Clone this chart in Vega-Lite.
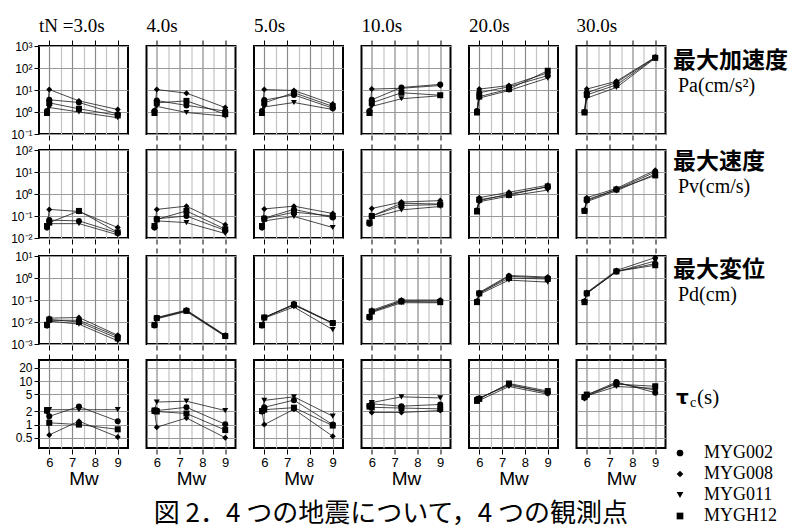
{
  "$schema": "https://vega.github.io/schema/vega-lite/v6.json",
  "background": "white",
  "padding": {"left": 10, "top": 16, "right": 0, "bottom": 0},
  "datasets": {
    "Pa": [
      {"t":"3.0","s":"MYG002","mw":5.9,"y":1.1},{"t":"3.0","s":"MYG002","mw":6.0,"y":3.6},{"t":"3.0","s":"MYG002","mw":7.3,"y":2.7},{"t":"3.0","s":"MYG002","mw":9.0,"y":0.8},
      {"t":"3.0","s":"MYG008","mw":5.9,"y":1.0},{"t":"3.0","s":"MYG008","mw":6.0,"y":10.5},{"t":"3.0","s":"MYG008","mw":7.3,"y":3.2},{"t":"3.0","s":"MYG008","mw":9.0,"y":1.3},
      {"t":"3.0","s":"MYG011","mw":5.9,"y":0.9},{"t":"3.0","s":"MYG011","mw":6.0,"y":1.6},{"t":"3.0","s":"MYG011","mw":7.3,"y":1.0},{"t":"3.0","s":"MYG011","mw":9.0,"y":0.55},
      {"t":"3.0","s":"MYGH12","mw":5.9,"y":0.9},{"t":"3.0","s":"MYGH12","mw":6.0,"y":2.6},{"t":"3.0","s":"MYGH12","mw":7.3,"y":1.4},{"t":"3.0","s":"MYGH12","mw":9.0,"y":0.7},
      {"t":"4.0","s":"MYG002","mw":5.9,"y":1.1},{"t":"4.0","s":"MYG002","mw":6.0,"y":3.3},{"t":"4.0","s":"MYG002","mw":7.3,"y":2.0},{"t":"4.0","s":"MYG002","mw":9.0,"y":1.1},
      {"t":"4.0","s":"MYG008","mw":5.9,"y":1.0},{"t":"4.0","s":"MYG008","mw":6.0,"y":10.5},{"t":"4.0","s":"MYG008","mw":7.3,"y":7.2},{"t":"4.0","s":"MYG008","mw":9.0,"y":1.6},
      {"t":"4.0","s":"MYG011","mw":5.9,"y":0.95},{"t":"4.0","s":"MYG011","mw":6.0,"y":1.8},{"t":"4.0","s":"MYG011","mw":7.3,"y":0.95},{"t":"4.0","s":"MYG011","mw":9.0,"y":0.65},
      {"t":"4.0","s":"MYGH12","mw":5.9,"y":0.9},{"t":"4.0","s":"MYGH12","mw":6.0,"y":2.6},{"t":"4.0","s":"MYGH12","mw":7.3,"y":3.2},{"t":"4.0","s":"MYGH12","mw":9.0,"y":0.8},
      {"t":"5.0","s":"MYG002","mw":5.9,"y":1.1},{"t":"5.0","s":"MYG002","mw":6.0,"y":3.5},{"t":"5.0","s":"MYG002","mw":7.3,"y":6.0},{"t":"5.0","s":"MYG002","mw":9.0,"y":1.5},
      {"t":"5.0","s":"MYG008","mw":5.9,"y":1.0},{"t":"5.0","s":"MYG008","mw":6.0,"y":10.5},{"t":"5.0","s":"MYG008","mw":7.3,"y":9.5},{"t":"5.0","s":"MYG008","mw":9.0,"y":2.3},
      {"t":"5.0","s":"MYG011","mw":5.9,"y":0.9},{"t":"5.0","s":"MYG011","mw":6.0,"y":1.7},{"t":"5.0","s":"MYG011","mw":7.3,"y":2.7},{"t":"5.0","s":"MYG011","mw":9.0,"y":1.3},
      {"t":"5.0","s":"MYGH12","mw":5.9,"y":0.9},{"t":"5.0","s":"MYGH12","mw":6.0,"y":2.6},{"t":"5.0","s":"MYGH12","mw":7.3,"y":7.5},{"t":"5.0","s":"MYGH12","mw":9.0,"y":1.8},
      {"t":"10.0","s":"MYG002","mw":5.9,"y":1.1},{"t":"10.0","s":"MYG002","mw":6.0,"y":3.6},{"t":"10.0","s":"MYG002","mw":7.3,"y":13},{"t":"10.0","s":"MYG002","mw":9.0,"y":18},
      {"t":"10.0","s":"MYG008","mw":5.9,"y":1.0},{"t":"10.0","s":"MYG008","mw":6.0,"y":11},{"t":"10.0","s":"MYG008","mw":7.3,"y":12},{"t":"10.0","s":"MYG008","mw":9.0,"y":16},
      {"t":"10.0","s":"MYG011","mw":5.9,"y":0.9},{"t":"10.0","s":"MYG011","mw":6.0,"y":1.8},{"t":"10.0","s":"MYG011","mw":7.3,"y":4.0},{"t":"10.0","s":"MYG011","mw":9.0,"y":5.5},
      {"t":"10.0","s":"MYGH12","mw":5.9,"y":0.9},{"t":"10.0","s":"MYGH12","mw":6.0,"y":2.6},{"t":"10.0","s":"MYGH12","mw":7.3,"y":7.5},{"t":"10.0","s":"MYGH12","mw":9.0,"y":5.8},
      {"t":"20.0","s":"MYG002","mw":5.9,"y":1.1},{"t":"20.0","s":"MYG002","mw":6.0,"y":7.5},{"t":"20.0","s":"MYG002","mw":7.3,"y":14},{"t":"20.0","s":"MYG002","mw":9.0,"y":45},
      {"t":"20.0","s":"MYG008","mw":5.9,"y":1.0},{"t":"20.0","s":"MYG008","mw":6.0,"y":11},{"t":"20.0","s":"MYG008","mw":7.3,"y":16},{"t":"20.0","s":"MYG008","mw":9.0,"y":60},
      {"t":"20.0","s":"MYG011","mw":5.9,"y":0.9},{"t":"20.0","s":"MYG011","mw":6.0,"y":4.3},{"t":"20.0","s":"MYG011","mw":7.3,"y":9.5},{"t":"20.0","s":"MYG011","mw":9.0,"y":35},
      {"t":"20.0","s":"MYGH12","mw":5.9,"y":0.95},{"t":"20.0","s":"MYGH12","mw":6.0,"y":5},{"t":"20.0","s":"MYGH12","mw":7.3,"y":11},{"t":"20.0","s":"MYGH12","mw":9.0,"y":75},
      {"t":"30.0","s":"MYG002","mw":5.9,"y":1.0},{"t":"30.0","s":"MYG002","mw":6.0,"y":7.5},{"t":"30.0","s":"MYG002","mw":7.3,"y":22},{"t":"30.0","s":"MYG002","mw":9.0,"y":300},
      {"t":"30.0","s":"MYG008","mw":5.9,"y":1.0},{"t":"30.0","s":"MYG008","mw":6.0,"y":11},{"t":"30.0","s":"MYG008","mw":7.3,"y":25},{"t":"30.0","s":"MYG008","mw":9.0,"y":310},
      {"t":"30.0","s":"MYG011","mw":5.9,"y":0.9},{"t":"30.0","s":"MYG011","mw":6.0,"y":4.3},{"t":"30.0","s":"MYG011","mw":7.3,"y":13},{"t":"30.0","s":"MYG011","mw":9.0,"y":280},
      {"t":"30.0","s":"MYGH12","mw":5.9,"y":0.95},{"t":"30.0","s":"MYGH12","mw":6.0,"y":6},{"t":"30.0","s":"MYGH12","mw":7.3,"y":17},{"t":"30.0","s":"MYGH12","mw":9.0,"y":290}
    ],
    "Pv": [
      {"t":"3.0","s":"MYG002","mw":5.9,"y":0.03},{"t":"3.0","s":"MYG002","mw":6.0,"y":0.065},{"t":"3.0","s":"MYG002","mw":7.3,"y":0.06},{"t":"3.0","s":"MYG002","mw":9.0,"y":0.017},
      {"t":"3.0","s":"MYG008","mw":5.9,"y":0.03},{"t":"3.0","s":"MYG008","mw":6.0,"y":0.2},{"t":"3.0","s":"MYG008","mw":7.3,"y":0.16},{"t":"3.0","s":"MYG008","mw":9.0,"y":0.03},
      {"t":"3.0","s":"MYG011","mw":5.9,"y":0.028},{"t":"3.0","s":"MYG011","mw":6.0,"y":0.045},{"t":"3.0","s":"MYG011","mw":7.3,"y":0.045},{"t":"3.0","s":"MYG011","mw":9.0,"y":0.014},
      {"t":"3.0","s":"MYGH12","mw":5.9,"y":0.035},{"t":"3.0","s":"MYGH12","mw":6.0,"y":0.05},{"t":"3.0","s":"MYGH12","mw":7.3,"y":0.17},{"t":"3.0","s":"MYGH12","mw":9.0,"y":0.018},
      {"t":"4.0","s":"MYG002","mw":5.9,"y":0.03},{"t":"4.0","s":"MYG002","mw":6.0,"y":0.075},{"t":"4.0","s":"MYG002","mw":7.3,"y":0.1},{"t":"4.0","s":"MYG002","mw":9.0,"y":0.022},
      {"t":"4.0","s":"MYG008","mw":5.9,"y":0.03},{"t":"4.0","s":"MYG008","mw":6.0,"y":0.2},{"t":"4.0","s":"MYG008","mw":7.3,"y":0.28},{"t":"4.0","s":"MYG008","mw":9.0,"y":0.04},
      {"t":"4.0","s":"MYG011","mw":5.9,"y":0.028},{"t":"4.0","s":"MYG011","mw":6.0,"y":0.06},{"t":"4.0","s":"MYG011","mw":7.3,"y":0.05},{"t":"4.0","s":"MYG011","mw":9.0,"y":0.016},
      {"t":"4.0","s":"MYGH12","mw":5.9,"y":0.035},{"t":"4.0","s":"MYGH12","mw":6.0,"y":0.07},{"t":"4.0","s":"MYGH12","mw":7.3,"y":0.17},{"t":"4.0","s":"MYGH12","mw":9.0,"y":0.025},
      {"t":"5.0","s":"MYG002","mw":5.9,"y":0.03},{"t":"5.0","s":"MYG002","mw":6.0,"y":0.08},{"t":"5.0","s":"MYG002","mw":7.3,"y":0.2},{"t":"5.0","s":"MYG002","mw":9.0,"y":0.085},
      {"t":"5.0","s":"MYG008","mw":5.9,"y":0.03},{"t":"5.0","s":"MYG008","mw":6.0,"y":0.21},{"t":"5.0","s":"MYG008","mw":7.3,"y":0.28},{"t":"5.0","s":"MYG008","mw":9.0,"y":0.13},
      {"t":"5.0","s":"MYG011","mw":5.9,"y":0.028},{"t":"5.0","s":"MYG011","mw":6.0,"y":0.06},{"t":"5.0","s":"MYG011","mw":7.3,"y":0.095},{"t":"5.0","s":"MYG011","mw":9.0,"y":0.03},
      {"t":"5.0","s":"MYGH12","mw":5.9,"y":0.035},{"t":"5.0","s":"MYGH12","mw":6.0,"y":0.075},{"t":"5.0","s":"MYGH12","mw":7.3,"y":0.15},{"t":"5.0","s":"MYGH12","mw":9.0,"y":0.1},
      {"t":"10.0","s":"MYG002","mw":5.9,"y":0.045},{"t":"10.0","s":"MYG002","mw":6.0,"y":0.1},{"t":"10.0","s":"MYG002","mw":7.3,"y":0.38},{"t":"10.0","s":"MYG002","mw":9.0,"y":0.35},
      {"t":"10.0","s":"MYG008","mw":5.9,"y":0.05},{"t":"10.0","s":"MYG008","mw":6.0,"y":0.22},{"t":"10.0","s":"MYG008","mw":7.3,"y":0.43},{"t":"10.0","s":"MYG008","mw":9.0,"y":0.5},
      {"t":"10.0","s":"MYG011","mw":5.9,"y":0.042},{"t":"10.0","s":"MYG011","mw":6.0,"y":0.085},{"t":"10.0","s":"MYG011","mw":7.3,"y":0.19},{"t":"10.0","s":"MYG011","mw":9.0,"y":0.27},
      {"t":"10.0","s":"MYGH12","mw":5.9,"y":0.05},{"t":"10.0","s":"MYGH12","mw":6.0,"y":0.1},{"t":"10.0","s":"MYGH12","mw":7.3,"y":0.3},{"t":"10.0","s":"MYGH12","mw":9.0,"y":0.33},
      {"t":"20.0","s":"MYG002","mw":5.9,"y":0.18},{"t":"20.0","s":"MYG002","mw":6.0,"y":0.5},{"t":"20.0","s":"MYG002","mw":7.3,"y":1.0},{"t":"20.0","s":"MYG002","mw":9.0,"y":2.1},
      {"t":"20.0","s":"MYG008","mw":5.9,"y":0.18},{"t":"20.0","s":"MYG008","mw":6.0,"y":0.68},{"t":"20.0","s":"MYG008","mw":7.3,"y":1.2},{"t":"20.0","s":"MYG008","mw":9.0,"y":2.5},
      {"t":"20.0","s":"MYG011","mw":5.9,"y":0.17},{"t":"20.0","s":"MYG011","mw":6.0,"y":0.45},{"t":"20.0","s":"MYG011","mw":7.3,"y":0.8},{"t":"20.0","s":"MYG011","mw":9.0,"y":1.5},
      {"t":"20.0","s":"MYGH12","mw":5.9,"y":0.16},{"t":"20.0","s":"MYGH12","mw":6.0,"y":0.55},{"t":"20.0","s":"MYGH12","mw":7.3,"y":0.9},{"t":"20.0","s":"MYGH12","mw":9.0,"y":2.2},
      {"t":"30.0","s":"MYG002","mw":5.9,"y":0.18},{"t":"30.0","s":"MYG002","mw":6.0,"y":0.5},{"t":"30.0","s":"MYG002","mw":7.3,"y":1.6},{"t":"30.0","s":"MYG002","mw":9.0,"y":10},
      {"t":"30.0","s":"MYG008","mw":5.9,"y":0.18},{"t":"30.0","s":"MYG008","mw":6.0,"y":0.68},{"t":"30.0","s":"MYG008","mw":7.3,"y":1.8},{"t":"30.0","s":"MYG008","mw":9.0,"y":12},
      {"t":"30.0","s":"MYG011","mw":5.9,"y":0.17},{"t":"30.0","s":"MYG011","mw":6.0,"y":0.45},{"t":"30.0","s":"MYG011","mw":7.3,"y":1.4},{"t":"30.0","s":"MYG011","mw":9.0,"y":8},
      {"t":"30.0","s":"MYGH12","mw":5.9,"y":0.17},{"t":"30.0","s":"MYGH12","mw":6.0,"y":0.55},{"t":"30.0","s":"MYGH12","mw":7.3,"y":1.6},{"t":"30.0","s":"MYGH12","mw":9.0,"y":7}
    ],
    "Pd": [
      {"t":"3.0","s":"MYG002","mw":5.9,"y":0.007},{"t":"3.0","s":"MYG002","mw":6.0,"y":0.012},{"t":"3.0","s":"MYG002","mw":7.3,"y":0.012},{"t":"3.0","s":"MYG002","mw":9.0,"y":0.0022},
      {"t":"3.0","s":"MYG008","mw":5.9,"y":0.007},{"t":"3.0","s":"MYG008","mw":6.0,"y":0.015},{"t":"3.0","s":"MYG008","mw":7.3,"y":0.016},{"t":"3.0","s":"MYG008","mw":9.0,"y":0.0025},
      {"t":"3.0","s":"MYG011","mw":5.9,"y":0.0065},{"t":"3.0","s":"MYG011","mw":6.0,"y":0.011},{"t":"3.0","s":"MYG011","mw":7.3,"y":0.008},{"t":"3.0","s":"MYG011","mw":9.0,"y":0.0014},
      {"t":"3.0","s":"MYGH12","mw":5.9,"y":0.0075},{"t":"3.0","s":"MYGH12","mw":6.0,"y":0.013},{"t":"3.0","s":"MYGH12","mw":7.3,"y":0.01},{"t":"3.0","s":"MYGH12","mw":9.0,"y":0.0018},
      {"t":"4.0","s":"MYG002","mw":5.9,"y":0.007},{"t":"4.0","s":"MYG002","mw":6.0,"y":0.015},{"t":"4.0","s":"MYG002","mw":7.3,"y":0.033},{"t":"4.0","s":"MYG002","mw":9.0,"y":0.0024},
      {"t":"4.0","s":"MYG008","mw":5.9,"y":0.0072},{"t":"4.0","s":"MYG008","mw":6.0,"y":0.016},{"t":"4.0","s":"MYG008","mw":7.3,"y":0.035},{"t":"4.0","s":"MYG008","mw":9.0,"y":0.0025},
      {"t":"4.0","s":"MYG011","mw":5.9,"y":0.0068},{"t":"4.0","s":"MYG011","mw":6.0,"y":0.014},{"t":"4.0","s":"MYG011","mw":7.3,"y":0.03},{"t":"4.0","s":"MYG011","mw":9.0,"y":0.0022},
      {"t":"4.0","s":"MYGH12","mw":5.9,"y":0.0074},{"t":"4.0","s":"MYGH12","mw":6.0,"y":0.015},{"t":"4.0","s":"MYGH12","mw":7.3,"y":0.032},{"t":"4.0","s":"MYGH12","mw":9.0,"y":0.0023},
      {"t":"5.0","s":"MYG002","mw":5.9,"y":0.007},{"t":"5.0","s":"MYG002","mw":6.0,"y":0.016},{"t":"5.0","s":"MYG002","mw":7.3,"y":0.065},{"t":"5.0","s":"MYG002","mw":9.0,"y":0.009},
      {"t":"5.0","s":"MYG008","mw":5.9,"y":0.007},{"t":"5.0","s":"MYG008","mw":6.0,"y":0.016},{"t":"5.0","s":"MYG008","mw":7.3,"y":0.06},{"t":"5.0","s":"MYG008","mw":9.0,"y":0.0085},
      {"t":"5.0","s":"MYG011","mw":5.9,"y":0.0068},{"t":"5.0","s":"MYG011","mw":6.0,"y":0.015},{"t":"5.0","s":"MYG011","mw":7.3,"y":0.048},{"t":"5.0","s":"MYG011","mw":9.0,"y":0.0045},
      {"t":"5.0","s":"MYGH12","mw":5.9,"y":0.0072},{"t":"5.0","s":"MYGH12","mw":6.0,"y":0.016},{"t":"5.0","s":"MYGH12","mw":7.3,"y":0.06},{"t":"5.0","s":"MYGH12","mw":9.0,"y":0.009},
      {"t":"10.0","s":"MYG002","mw":5.9,"y":0.016},{"t":"10.0","s":"MYG002","mw":6.0,"y":0.03},{"t":"10.0","s":"MYG002","mw":7.3,"y":0.09},{"t":"10.0","s":"MYG002","mw":9.0,"y":0.09},
      {"t":"10.0","s":"MYG008","mw":5.9,"y":0.016},{"t":"10.0","s":"MYG008","mw":6.0,"y":0.034},{"t":"10.0","s":"MYG008","mw":7.3,"y":0.1},{"t":"10.0","s":"MYG008","mw":9.0,"y":0.1},
      {"t":"10.0","s":"MYG011","mw":5.9,"y":0.015},{"t":"10.0","s":"MYG011","mw":6.0,"y":0.027},{"t":"10.0","s":"MYG011","mw":7.3,"y":0.075},{"t":"10.0","s":"MYG011","mw":9.0,"y":0.075},
      {"t":"10.0","s":"MYGH12","mw":5.9,"y":0.017},{"t":"10.0","s":"MYGH12","mw":6.0,"y":0.03},{"t":"10.0","s":"MYGH12","mw":7.3,"y":0.085},{"t":"10.0","s":"MYGH12","mw":9.0,"y":0.08},
      {"t":"20.0","s":"MYG002","mw":5.9,"y":0.085},{"t":"20.0","s":"MYG002","mw":6.0,"y":0.2},{"t":"20.0","s":"MYG002","mw":7.3,"y":1.2},{"t":"20.0","s":"MYG002","mw":9.0,"y":1.0},
      {"t":"20.0","s":"MYG008","mw":5.9,"y":0.09},{"t":"20.0","s":"MYG008","mw":6.0,"y":0.22},{"t":"20.0","s":"MYG008","mw":7.3,"y":1.3},{"t":"20.0","s":"MYG008","mw":9.0,"y":1.1},
      {"t":"20.0","s":"MYG011","mw":5.9,"y":0.075},{"t":"20.0","s":"MYG011","mw":6.0,"y":0.18},{"t":"20.0","s":"MYG011","mw":7.3,"y":0.8},{"t":"20.0","s":"MYG011","mw":9.0,"y":0.65},
      {"t":"20.0","s":"MYGH12","mw":5.9,"y":0.08},{"t":"20.0","s":"MYGH12","mw":6.0,"y":0.2},{"t":"20.0","s":"MYGH12","mw":7.3,"y":1.0},{"t":"20.0","s":"MYGH12","mw":9.0,"y":0.9},
      {"t":"30.0","s":"MYG002","mw":5.9,"y":0.085},{"t":"30.0","s":"MYG002","mw":6.0,"y":0.2},{"t":"30.0","s":"MYG002","mw":7.3,"y":2.0},{"t":"30.0","s":"MYG002","mw":9.0,"y":4.5},
      {"t":"30.0","s":"MYG008","mw":5.9,"y":0.09},{"t":"30.0","s":"MYG008","mw":6.0,"y":0.22},{"t":"30.0","s":"MYG008","mw":7.3,"y":2.2},{"t":"30.0","s":"MYG008","mw":9.0,"y":8.5},
      {"t":"30.0","s":"MYG011","mw":5.9,"y":0.075},{"t":"30.0","s":"MYG011","mw":6.0,"y":0.2},{"t":"30.0","s":"MYG011","mw":7.3,"y":1.9},{"t":"30.0","s":"MYG011","mw":9.0,"y":6},
      {"t":"30.0","s":"MYGH12","mw":5.9,"y":0.08},{"t":"30.0","s":"MYGH12","mw":6.0,"y":0.2},{"t":"30.0","s":"MYGH12","mw":7.3,"y":2.0},{"t":"30.0","s":"MYGH12","mw":9.0,"y":3.8}
    ],
    "tc": [
      {"t":"3.0","s":"MYG002","mw":5.9,"y":2.1},{"t":"3.0","s":"MYG002","mw":6.0,"y":1.55},{"t":"3.0","s":"MYG002","mw":7.3,"y":2.6},{"t":"3.0","s":"MYG002","mw":9.0,"y":1.2},
      {"t":"3.0","s":"MYG008","mw":5.9,"y":2.0},{"t":"3.0","s":"MYG008","mw":6.0,"y":0.58},{"t":"3.0","s":"MYG008","mw":7.3,"y":1.2},{"t":"3.0","s":"MYG008","mw":9.0,"y":0.52},
      {"t":"3.0","s":"MYG011","mw":5.9,"y":2.2},{"t":"3.0","s":"MYG011","mw":6.0,"y":2.2},{"t":"3.0","s":"MYG011","mw":7.3,"y":2.2},{"t":"3.0","s":"MYG011","mw":9.0,"y":2.2},
      {"t":"3.0","s":"MYGH12","mw":5.9,"y":2.1},{"t":"3.0","s":"MYGH12","mw":6.0,"y":1.1},{"t":"3.0","s":"MYGH12","mw":7.3,"y":1.0},{"t":"3.0","s":"MYGH12","mw":9.0,"y":0.78},
      {"t":"4.0","s":"MYG002","mw":5.9,"y":2.1},{"t":"4.0","s":"MYG002","mw":6.0,"y":2.1},{"t":"4.0","s":"MYG002","mw":7.3,"y":2.5},{"t":"4.0","s":"MYG002","mw":9.0,"y":1.02},
      {"t":"4.0","s":"MYG008","mw":5.9,"y":2.1},{"t":"4.0","s":"MYG008","mw":6.0,"y":0.87},{"t":"4.0","s":"MYG008","mw":7.3,"y":1.42},{"t":"4.0","s":"MYG008","mw":9.0,"y":0.5},
      {"t":"4.0","s":"MYG011","mw":5.9,"y":2.15},{"t":"4.0","s":"MYG011","mw":6.0,"y":3.3},{"t":"4.0","s":"MYG011","mw":7.3,"y":3.45},{"t":"4.0","s":"MYG011","mw":9.0,"y":2.1},
      {"t":"4.0","s":"MYGH12","mw":5.9,"y":2.05},{"t":"4.0","s":"MYGH12","mw":6.0,"y":2.0},{"t":"4.0","s":"MYGH12","mw":7.3,"y":1.8},{"t":"4.0","s":"MYGH12","mw":9.0,"y":0.75},
      {"t":"5.0","s":"MYG002","mw":5.9,"y":2.0},{"t":"5.0","s":"MYG002","mw":6.0,"y":2.5},{"t":"5.0","s":"MYG002","mw":7.3,"y":3.65},{"t":"5.0","s":"MYG002","mw":9.0,"y":1.0},
      {"t":"5.0","s":"MYG008","mw":5.9,"y":2.0},{"t":"5.0","s":"MYG008","mw":6.0,"y":1.0},{"t":"5.0","s":"MYG008","mw":7.3,"y":2.25},{"t":"5.0","s":"MYG008","mw":9.0,"y":0.54},
      {"t":"5.0","s":"MYG011","mw":5.9,"y":2.1},{"t":"5.0","s":"MYG011","mw":6.0,"y":3.6},{"t":"5.0","s":"MYG011","mw":7.3,"y":4.35},{"t":"5.0","s":"MYG011","mw":9.0,"y":1.56},
      {"t":"5.0","s":"MYGH12","mw":5.9,"y":2.05},{"t":"5.0","s":"MYGH12","mw":6.0,"y":2.2},{"t":"5.0","s":"MYGH12","mw":7.3,"y":2.45},{"t":"5.0","s":"MYGH12","mw":9.0,"y":0.95},
      {"t":"10.0","s":"MYG002","mw":5.9,"y":2.7},{"t":"10.0","s":"MYG002","mw":6.0,"y":3.0},{"t":"10.0","s":"MYG002","mw":7.3,"y":2.65},{"t":"10.0","s":"MYG002","mw":9.0,"y":2.9},
      {"t":"10.0","s":"MYG008","mw":5.9,"y":2.6},{"t":"10.0","s":"MYG008","mw":6.0,"y":1.9},{"t":"10.0","s":"MYG008","mw":7.3,"y":1.9},{"t":"10.0","s":"MYG008","mw":9.0,"y":2.1},
      {"t":"10.0","s":"MYG011","mw":5.9,"y":2.7},{"t":"10.0","s":"MYG011","mw":6.0,"y":3.2},{"t":"10.0","s":"MYG011","mw":7.3,"y":4.35},{"t":"10.0","s":"MYG011","mw":9.0,"y":4.1},
      {"t":"10.0","s":"MYGH12","mw":5.9,"y":2.6},{"t":"10.0","s":"MYGH12","mw":6.0,"y":2.5},{"t":"10.0","s":"MYGH12","mw":7.3,"y":2.4},{"t":"10.0","s":"MYGH12","mw":9.0,"y":2.3},
      {"t":"20.0","s":"MYG002","mw":5.9,"y":3.8},{"t":"20.0","s":"MYG002","mw":6.0,"y":4.0},{"t":"20.0","s":"MYG002","mw":7.3,"y":8.5},{"t":"20.0","s":"MYG002","mw":9.0,"y":5.3},
      {"t":"20.0","s":"MYG008","mw":5.9,"y":3.6},{"t":"20.0","s":"MYG008","mw":6.0,"y":4.1},{"t":"20.0","s":"MYG008","mw":7.3,"y":8.0},{"t":"20.0","s":"MYG008","mw":9.0,"y":5.6},
      {"t":"20.0","s":"MYG011","mw":5.9,"y":3.7},{"t":"20.0","s":"MYG011","mw":6.0,"y":3.6},{"t":"20.0","s":"MYG011","mw":7.3,"y":7.5},{"t":"20.0","s":"MYG011","mw":9.0,"y":5.0},
      {"t":"20.0","s":"MYGH12","mw":5.9,"y":3.5},{"t":"20.0","s":"MYGH12","mw":6.0,"y":3.9},{"t":"20.0","s":"MYGH12","mw":7.3,"y":8.8},{"t":"20.0","s":"MYGH12","mw":9.0,"y":5.9},
      {"t":"30.0","s":"MYG002","mw":5.9,"y":4.2},{"t":"30.0","s":"MYG002","mw":6.0,"y":4.8},{"t":"30.0","s":"MYG002","mw":7.3,"y":9.5},{"t":"30.0","s":"MYG002","mw":9.0,"y":5.4},
      {"t":"30.0","s":"MYG008","mw":5.9,"y":4.0},{"t":"30.0","s":"MYG008","mw":6.0,"y":4.5},{"t":"30.0","s":"MYG008","mw":7.3,"y":9.0},{"t":"30.0","s":"MYG008","mw":9.0,"y":6.2},
      {"t":"30.0","s":"MYG011","mw":5.9,"y":4.1},{"t":"30.0","s":"MYG011","mw":6.0,"y":4.6},{"t":"30.0","s":"MYG011","mw":7.3,"y":7.5},{"t":"30.0","s":"MYG011","mw":9.0,"y":6.8},
      {"t":"30.0","s":"MYGH12","mw":5.9,"y":4.3},{"t":"30.0","s":"MYGH12","mw":6.0,"y":4.9},{"t":"30.0","s":"MYGH12","mw":7.3,"y":8.5},{"t":"30.0","s":"MYGH12","mw":9.0,"y":7.6}
    ]
  },
  "title": {"text": "図 2．4 つの地震について，4 つの観測点", "orient": "bottom", "anchor": "middle", "font": "Noto Sans CJK JP", "fontSize": 26, "fontWeight": "normal", "color": "black", "offset": -24, "dx": -10},
  "spacing": 2,
  "vconcat": [
    {
      "spacing": 6,
      "hconcat": [
        {
          "data": {"name": "Pa"},
          "facet": {"column": {"field": "t", "type": "ordinal", "sort": ["3.0","4.0","5.0","10.0","20.0","30.0"], "title": null,
            "header": {"labelExpr": "datum.value === '3.0' ? 'tN =3.0s' : datum.value + 's'", "labelFont": "Liberation Serif", "labelFontSize": 19, "labelColor": "black", "labelAnchor": "start", "labelAlign": "left", "labelPadding": 4}}},
          "spacing": 16.5,
          "spec": {
            "width": 89, "height": 88,
            "encoding": {"y": {"field": "y", "type": "quantitative", "scale": {"type": "log", "domain": [0.1, 1000], "nice": false},
              "axis": {"values": [0.1, 1, 10, 100, 1000], "title": null, "domain": false, "tickSize": 4, "labelFontSize": 12, "labelPadding": 2, "gridColor": "#999999", "gridWidth": 1.2,
                "labelExpr": "'10' + replace(replace(replace(replace(replace(toString(round(log(datum.value)/LN10)),'-','⁻'),'0','⁰'),'1','¹'),'2','²'),'3','³')"}}},
            "layer": [
              {"mark": {"type": "line", "color": "#1a1a1a", "strokeWidth": 0.8},
               "encoding": {"x": {"field": "mw", "type": "quantitative", "scale": {"domain": [5.55, 9.45], "nice": false, "zero": false},
                  "axis": {"values": [6, 6.5, 7, 7.5, 8, 8.5, 9], "labels": false, "title": null, "domain": false, "tickSize": 5, "gridWidth": 1.2,
                    "tickOpacity": {"condition": {"test": "datum.value % 1 !== 0", "value": 0}, "value": 1},
                    "gridColor": {"condition": {"test": "datum.value % 1 !== 0", "value": "#c4c4c4"}, "value": "#8a8a8a"}}},
                 "detail": {"field": "s", "type": "nominal"}}},
              {"mark": {"type": "point", "filled": true, "color": "black", "opacity": 1, "size": 36},
               "encoding": {"x": {"field": "mw", "type": "quantitative", "scale": {"domain": [5.55, 9.45], "nice": false, "zero": false},
                  "axis": {"orient": "top", "values": [6, 7, 8, 9], "labels": false, "title": null, "grid": false, "domain": false, "tickSize": 5}},
                 "shape": {"field": "s", "type": "nominal", "title": null, "scale": {"domain": ["MYG002","MYG008","MYG011","MYGH12"], "range": ["circle","diamond","triangle-down","square"]}}}}
            ],
            "resolve": {"axis": {"x": "independent"}}
          }
        },
        {
          "width": 118, "height": 88, "view": {"stroke": null},
          "data": {"values": [{"line": 1, "txt": "最大加速度"}, {"line": 2, "txt": "Pa(cm/s²)"}]},
          "encoding": {"x": {"datum": 0, "type": "quantitative", "scale": {"domain": [0, 1]}, "axis": null},
            "y": {"field": "line", "type": "ordinal", "scale": {"type": "point", "domain": [1, 2], "range": [15, 40], "padding": 0}, "axis": null},
            "text": {"field": "txt"}},
          "layer": [
            {"transform": [{"filter": "datum.line === 1"}], "mark": {"type": "text", "align": "left", "baseline": "middle", "font": "Noto Sans CJK JP", "fontWeight": "bold", "fontSize": 23, "color": "black"}},
            {"transform": [{"filter": "datum.line === 2"}], "mark": {"type": "text", "align": "left", "baseline": "middle", "font": "Liberation Serif", "fontSize": 20, "dx": 5, "color": "black"}}
          ]
        }
      ]
    },
    {
      "spacing": 6,
      "hconcat": [
        {
          "data": {"name": "Pv"},
          "facet": {"column": {"field": "t", "type": "ordinal", "sort": ["3.0","4.0","5.0","10.0","20.0","30.0"], "title": null, "header": {"labels": false}}},
          "spacing": 16.5,
          "spec": {
            "width": 89, "height": 88,
            "encoding": {"y": {"field": "y", "type": "quantitative", "scale": {"type": "log", "domain": [0.01, 100], "nice": false},
              "axis": {"values": [0.01, 0.1, 1, 10, 100], "title": null, "domain": false, "tickSize": 4, "labelFontSize": 12, "labelPadding": 2, "gridColor": "#999999", "gridWidth": 1.2,
                "labelExpr": "'10' + replace(replace(replace(replace(replace(toString(round(log(datum.value)/LN10)),'-','⁻'),'0','⁰'),'1','¹'),'2','²'),'3','³')"}}},
            "layer": [
              {"mark": {"type": "line", "color": "#1a1a1a", "strokeWidth": 0.8},
               "encoding": {"x": {"field": "mw", "type": "quantitative", "scale": {"domain": [5.55, 9.45], "nice": false, "zero": false},
                  "axis": {"values": [6, 6.5, 7, 7.5, 8, 8.5, 9], "labels": false, "title": null, "domain": false, "tickSize": 5, "gridWidth": 1.2,
                    "tickOpacity": {"condition": {"test": "datum.value % 1 !== 0", "value": 0}, "value": 1},
                    "gridColor": {"condition": {"test": "datum.value % 1 !== 0", "value": "#c4c4c4"}, "value": "#8a8a8a"}}},
                 "detail": {"field": "s", "type": "nominal"}}},
              {"mark": {"type": "point", "filled": true, "color": "black", "opacity": 1, "size": 36},
               "encoding": {"x": {"field": "mw", "type": "quantitative", "scale": {"domain": [5.55, 9.45], "nice": false, "zero": false},
                  "axis": {"orient": "top", "values": [6, 7, 8, 9], "labels": false, "title": null, "grid": false, "domain": false, "tickSize": 5}},
                 "shape": {"field": "s", "type": "nominal", "title": null, "scale": {"domain": ["MYG002","MYG008","MYG011","MYGH12"], "range": ["circle","diamond","triangle-down","square"]}}}}
            ],
            "resolve": {"axis": {"x": "independent"}}
          }
        },
        {
          "width": 118, "height": 88, "view": {"stroke": null},
          "data": {"values": [{"line": 1, "txt": "最大速度"}, {"line": 2, "txt": "Pv(cm/s)"}]},
          "encoding": {"x": {"datum": 0, "type": "quantitative", "scale": {"domain": [0, 1]}, "axis": null},
            "y": {"field": "line", "type": "ordinal", "scale": {"type": "point", "domain": [1, 2], "range": [12, 37], "padding": 0}, "axis": null},
            "text": {"field": "txt"}},
          "layer": [
            {"transform": [{"filter": "datum.line === 1"}], "mark": {"type": "text", "align": "left", "baseline": "middle", "font": "Noto Sans CJK JP", "fontWeight": "bold", "fontSize": 23, "color": "black"}},
            {"transform": [{"filter": "datum.line === 2"}], "mark": {"type": "text", "align": "left", "baseline": "middle", "font": "Liberation Serif", "fontSize": 20, "dx": 5, "color": "black"}}
          ]
        }
      ]
    },
    {
      "spacing": 6,
      "hconcat": [
        {
          "data": {"name": "Pd"},
          "facet": {"column": {"field": "t", "type": "ordinal", "sort": ["3.0","4.0","5.0","10.0","20.0","30.0"], "title": null, "header": {"labels": false}}},
          "spacing": 16.5,
          "spec": {
            "width": 89, "height": 88,
            "encoding": {"y": {"field": "y", "type": "quantitative", "scale": {"type": "log", "domain": [0.001, 10], "nice": false},
              "axis": {"values": [0.001, 0.01, 0.1, 1, 10], "title": null, "domain": false, "tickSize": 4, "labelFontSize": 12, "labelPadding": 2, "gridColor": "#999999", "gridWidth": 1.2,
                "labelExpr": "'10' + replace(replace(replace(replace(replace(toString(round(log(datum.value)/LN10)),'-','⁻'),'0','⁰'),'1','¹'),'2','²'),'3','³')"}}},
            "layer": [
              {"mark": {"type": "line", "color": "#1a1a1a", "strokeWidth": 0.8},
               "encoding": {"x": {"field": "mw", "type": "quantitative", "scale": {"domain": [5.55, 9.45], "nice": false, "zero": false},
                  "axis": {"values": [6, 6.5, 7, 7.5, 8, 8.5, 9], "labels": false, "title": null, "domain": false, "tickSize": 5, "gridWidth": 1.2,
                    "tickOpacity": {"condition": {"test": "datum.value % 1 !== 0", "value": 0}, "value": 1},
                    "gridColor": {"condition": {"test": "datum.value % 1 !== 0", "value": "#c4c4c4"}, "value": "#8a8a8a"}}},
                 "detail": {"field": "s", "type": "nominal"}}},
              {"mark": {"type": "point", "filled": true, "color": "black", "opacity": 1, "size": 36},
               "encoding": {"x": {"field": "mw", "type": "quantitative", "scale": {"domain": [5.55, 9.45], "nice": false, "zero": false},
                  "axis": {"orient": "top", "values": [6, 7, 8, 9], "labels": false, "title": null, "grid": false, "domain": false, "tickSize": 5}},
                 "shape": {"field": "s", "type": "nominal", "title": null, "scale": {"domain": ["MYG002","MYG008","MYG011","MYGH12"], "range": ["circle","diamond","triangle-down","square"]}}}}
            ],
            "resolve": {"axis": {"x": "independent"}}
          }
        },
        {
          "width": 118, "height": 88, "view": {"stroke": null},
          "data": {"values": [{"line": 1, "txt": "最大変位"}, {"line": 2, "txt": "Pd(cm)"}]},
          "encoding": {"x": {"datum": 0, "type": "quantitative", "scale": {"domain": [0, 1]}, "axis": null},
            "y": {"field": "line", "type": "ordinal", "scale": {"type": "point", "domain": [1, 2], "range": [14, 39], "padding": 0}, "axis": null},
            "text": {"field": "txt"}},
          "layer": [
            {"transform": [{"filter": "datum.line === 1"}], "mark": {"type": "text", "align": "left", "baseline": "middle", "font": "Noto Sans CJK JP", "fontWeight": "bold", "fontSize": 23, "color": "black"}},
            {"transform": [{"filter": "datum.line === 2"}], "mark": {"type": "text", "align": "left", "baseline": "middle", "font": "Liberation Serif", "fontSize": 20, "dx": 5, "color": "black"}}
          ]
        }
      ]
    },
    {
      "spacing": 6,
      "hconcat": [
        {
          "data": {"name": "tc"},
          "facet": {"column": {"field": "t", "type": "ordinal", "sort": ["3.0","4.0","5.0","10.0","20.0","30.0"], "title": null, "header": {"labels": false}}},
          "spacing": 16.5,
          "spec": {
            "width": 89, "height": 88,
            "encoding": {"y": {"field": "y", "type": "quantitative", "scale": {"type": "log", "domain": [0.29, 30.5], "nice": false},
              "axis": {"values": [0.5, 1, 2, 5, 10, 20], "title": null, "domain": false, "tickSize": 4, "labelFontSize": 12, "labelPadding": 2, "gridColor": "#999999", "gridWidth": 1.2,
                "labelExpr": "toString(datum.value)"}}},
            "layer": [
              {"mark": {"type": "line", "color": "#1a1a1a", "strokeWidth": 0.8},
               "encoding": {"x": {"field": "mw", "type": "quantitative", "scale": {"domain": [5.55, 9.45], "nice": false, "zero": false},
                  "axis": {"values": [6, 6.5, 7, 7.5, 8, 8.5, 9], "title": "Mw", "titleFont": "Liberation Sans", "titleFontSize": 19, "titleFontWeight": "normal", "titleColor": "black", "titlePadding": 0,
                    "labelExpr": "datum.value % 1 === 0 ? toString(datum.value) : ''", "labelFontSize": 13, "labelPadding": 2,
                    "domain": false, "tickSize": 5, "gridWidth": 1.2,
                    "tickOpacity": {"condition": {"test": "datum.value % 1 !== 0", "value": 0}, "value": 1},
                    "gridColor": {"condition": {"test": "datum.value % 1 !== 0", "value": "#c4c4c4"}, "value": "#8a8a8a"}}},
                 "detail": {"field": "s", "type": "nominal"}}},
              {"mark": {"type": "point", "filled": true, "color": "black", "opacity": 1, "size": 36},
               "encoding": {"x": {"field": "mw", "type": "quantitative", "scale": {"domain": [5.55, 9.45], "nice": false, "zero": false},
                  "axis": {"orient": "top", "values": [6, 7, 8, 9], "labels": false, "title": null, "grid": false, "domain": false, "tickSize": 5}},
                 "shape": {"field": "s", "type": "nominal", "title": null, "scale": {"domain": ["MYG002","MYG008","MYG011","MYGH12"], "range": ["circle","diamond","triangle-down","square"]}}}}
            ],
            "resolve": {"axis": {"x": "independent"}}
          }
        },
        {
          "width": 118, "height": 88, "view": {"stroke": null},
          "data": {"values": [{"line": 1, "txt": "τ"}, {"line": 1, "txt": "c"}, {"line": 1, "txt": "(s)"}]},
          "encoding": {"x": {"datum": 0, "type": "quantitative", "scale": {"domain": [0, 1]}, "axis": null},
            "y": {"field": "line", "type": "ordinal", "scale": {"type": "point", "domain": [1, 2], "range": [38, 60], "padding": 0}, "axis": null},
            "text": {"field": "txt"}},
          "layer": [
            {"transform": [{"filter": "datum.txt === 'τ'"}], "mark": {"type": "text", "align": "left", "baseline": "middle", "font": "DejaVu Sans", "fontWeight": "bold", "fontSize": 20, "dx": 3, "color": "black"}},
            {"transform": [{"filter": "datum.txt === 'c'"}], "mark": {"type": "text", "align": "left", "baseline": "middle", "font": "Liberation Serif", "fontSize": 14, "dx": 17, "dy": 5, "color": "black"}},
            {"transform": [{"filter": "datum.txt === '(s)'"}], "mark": {"type": "text", "align": "left", "baseline": "middle", "font": "Liberation Serif", "fontSize": 21, "dx": 24, "color": "black"}}
          ]
        }
      ]
    }
  ],
  "config": {
    "font": "Liberation Sans",
    "view": {"stroke": "black", "strokeWidth": 2},
    "axis": {"labelFont": "Liberation Sans", "labelColor": "black", "tickColor": "black", "tickWidth": 1},
    "legend": {"orient": "none", "legendX": 632, "legendY": 398, "labelFont": "Liberation Serif", "labelFontSize": 18, "labelColor": "black", "symbolSize": 45, "labelOffset": 15, "rowPadding": 3, "symbolFillColor": "black", "symbolStrokeColor": "black"}
  }
}
